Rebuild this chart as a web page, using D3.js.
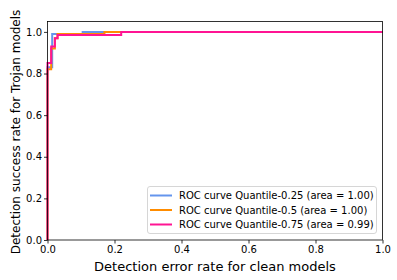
<!DOCTYPE html>
<html><head><meta charset="utf-8">
<script src="https://cdn.jsdelivr.net/npm/d3@7"></script>
<style>body{margin:0;background:#fff}svg{display:block}text{font-family:"DejaVu Sans",sans-serif}</style>
</head><body><div id="chart"></div>
<script>
const seriesNames = ["ROC curve Quantile-0.25 (area = 1.00)", "ROC curve Quantile-0.5 (area = 1.00)", "ROC curve Quantile-0.75 (area = 0.99)"];
const seriesColors = ["#6495ED", "#FF8C00", "#FF1493"];
const fprQ25 = [0, 0, 0.014, 0.014, 0.105, 0.105, 1];
const tprQ25 = [0, 0.83, 0.83, 0.99, 0.99, 1, 1];
const fprQ50 = [0, 0, 0.011, 0.011, 0.022, 0.022, 0.03, 0.03, 0.17, 0.17, 1];
const tprQ50 = [0, 0.82, 0.82, 0.92, 0.92, 0.97, 0.97, 0.99, 0.99, 1, 1];
const fprQ75 = [0, 0, 0.011, 0.011, 0.022, 0.022, 0.03, 0.03, 0.22, 0.22, 1];
const tprQ75 = [0, 0.85, 0.85, 0.93, 0.93, 0.97, 0.97, 0.985, 0.985, 1, 1];
const xTicks = [0, 0.2, 0.4, 0.6, 0.8, 1.0];
const yTicks = [0, 0.2, 0.4, 0.6, 0.8, 1.0];

const W = 397, H = 280;
const m = {left: 47.5, right: 14.5, top: 21.5, bottom: 40};
const svg = d3.select("#chart").append("svg").attr("width", W).attr("height", H);
const x = d3.scaleLinear().domain([0, 1]).range([m.left, W - m.right]);
const y = d3.scaleLinear().domain([0, 1.05]).range([H - m.bottom, m.top]);

const series = [[fprQ25, tprQ25], [fprQ50, tprQ50], [fprQ75, tprQ75]];
const line = d3.line().x(d => x(d[0])).y(d => y(d[1]));
series.forEach((s, i) => {
  const pts = s[0].map((v, j) => [v, s[1][j]]);
  svg.append("path").attr("d", line(pts)).attr("fill", "none")
    .attr("stroke", seriesColors[i]).attr("stroke-width", 2);
});

// frame
svg.append("rect").attr("x", x(0)).attr("y", y(1.05)).attr("width", x(1) - x(0)).attr("height", y(0) - y(1.05))
  .attr("fill", "none").attr("stroke", "#000").attr("stroke-width", 0.8);

const xAxis = svg.append("g").attr("transform", `translate(0,${y(0)})`)
  .call(d3.axisBottom(x).tickValues(xTicks).tickFormat(d3.format(".1f")).tickSize(3.5).tickPadding(2));
const yAxis = svg.append("g").attr("transform", `translate(${x(0)},0)`)
  .call(d3.axisLeft(y).tickValues(yTicks).tickFormat(d3.format(".1f")).tickSize(3.5).tickPadding(2));
[xAxis, yAxis].forEach(a => {
  a.select(".domain").remove();
  a.selectAll("text").attr("font-size", 10).attr("font-family", "DejaVu Sans").attr("fill", "#000");
  a.selectAll("line").attr("stroke", "#000").attr("stroke-width", 0.8);
});

svg.append("text").attr("x", (x(0) + x(1)) / 2).attr("y", 271).attr("text-anchor", "middle")
  .attr("font-size", 13).text("Detection error rate for clean models");
const yl = svg.append("text").attr("transform", `translate(20,132) rotate(-90)`).attr("text-anchor", "middle")
  .attr("font-size", 13).text("Detection success rate for Trojan models");
const len = yl.node().getComputedTextLength();
if (len > 245) yl.attr("font-size", 13 * 245 / len);

// legend
const lg = svg.append("g");
lg.append("rect").attr("x", 147.5).attr("y", 186.5).attr("width", 229).attr("height", 47).attr("rx", 2.5)
  .attr("fill", "#fff").attr("fill-opacity", 0.8).attr("stroke", "#ccc").attr("stroke-width", 0.8);
seriesNames.forEach((n, i) => {
  const yy = 195.5 + i * 14.5;
  lg.append("line").attr("x1", 150).attr("x2", 172).attr("y1", yy).attr("y2", yy)
    .attr("stroke", seriesColors[i]).attr("stroke-width", 2);
  lg.append("text").attr("x", 179).attr("y", yy).attr("dy", "0.35em").attr("font-size", 10).text(n);
});
</script></body></html>
